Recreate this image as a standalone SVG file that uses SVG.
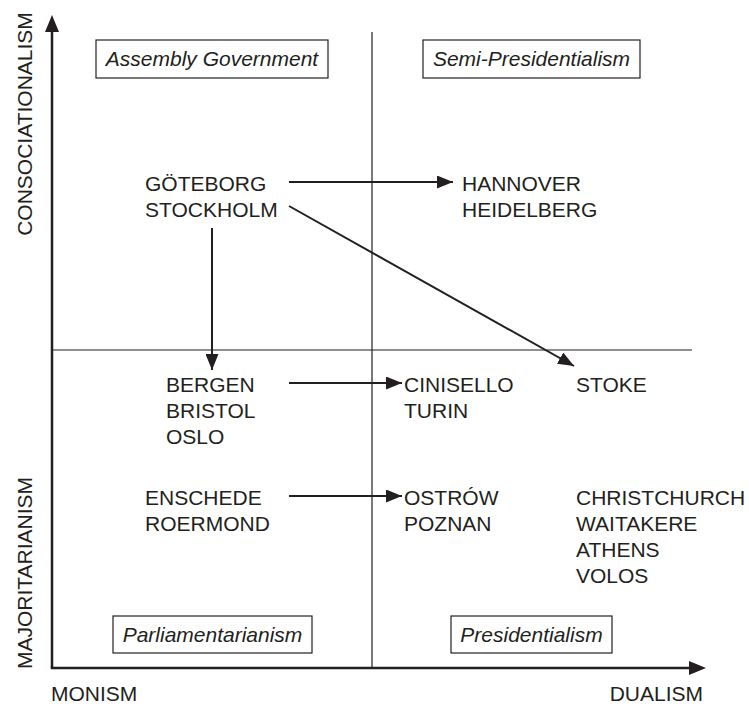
<svg xmlns="http://www.w3.org/2000/svg" width="749" height="707" viewBox="0 0 749 707">
<style>
text{font-family:"Liberation Sans",Arial,sans-serif;font-size:21px;fill:#231f20}
.it{font-style:italic;text-anchor:middle}
.axis{stroke:#231f20;stroke-width:2.5;fill:none}
.div{stroke:#231f20;stroke-width:1.2;fill:none}
.box{stroke:#231f20;stroke-width:1.2;fill:#fff}
.con{stroke:#231f20;stroke-width:2;fill:none;marker-end:url(#ah)}
</style>
<defs>
<marker id="ah" markerUnits="userSpaceOnUse" markerWidth="17" markerHeight="13" refX="16" refY="6.5" orient="auto"><path d="M0,0 L16,6.5 L0,13 z" fill="#231f20"/></marker>
</defs>
<rect width="749" height="707" fill="#fff"/>
<g id="axes">
<line class="div" x1="372" y1="32" x2="372" y2="668"/>
<line class="div" x1="52" y1="350" x2="692" y2="350"/>
<line class="axis" x1="52" y1="668" x2="52" y2="30"/>
<path d="M52,15 L59,32 L45,32 z" fill="#231f20"/>
<line class="axis" x1="50.75" y1="668" x2="692" y2="668"/>
<path d="M706,668 L689,661 L689,675 z" fill="#231f20"/>
<text transform="translate(32,124) rotate(-90)" text-anchor="middle">CONSOCIATIONALISM</text>
<text transform="translate(32,573) rotate(-90)" text-anchor="middle">MAJORITARIANISM</text>
<text x="51" y="701">MONISM</text>
<text x="703" y="701" text-anchor="end">DUALISM</text>
</g>
<g id="assembly"><rect class="box" x="96" y="40" width="232" height="38"/><text class="it" x="212" y="66">Assembly Government</text></g>
<g id="semi"><rect class="box" x="423" y="40" width="217" height="38"/><text class="it" x="531.5" y="66">Semi-Presidentialism</text></g>
<g id="parl"><rect class="box" x="113" y="616" width="199" height="37"/><text class="it" x="212.5" y="642">Parliamentarianism</text></g>
<g id="pres"><rect class="box" x="451" y="616" width="161" height="37"/><text class="it" x="531.5" y="642">Presidentialism</text></g>
<g id="goteborg"><text x="145" y="191">GÖTEBORG</text><text x="145" y="217">STOCKHOLM</text></g>
<g id="hannover"><text x="462" y="191">HANNOVER</text><text x="462" y="217">HEIDELBERG</text></g>
<g id="bergen"><text x="166" y="392">BERGEN</text><text x="166" y="418">BRISTOL</text><text x="166" y="444">OSLO</text></g>
<g id="cinisello"><text x="404" y="392">CINISELLO</text><text x="404" y="418">TURIN</text></g>
<g id="stoke"><text x="576" y="392">STOKE</text></g>
<g id="enschede"><text x="145" y="505">ENSCHEDE</text><text x="145" y="531">ROERMOND</text></g>
<g id="ostrow"><text x="404" y="505">OSTRÓW</text><text x="404" y="531">POZNAN</text></g>
<g id="christchurch"><text x="576" y="505">CHRISTCHURCH</text><text x="576" y="531">WAITAKERE</text><text x="576" y="557">ATHENS</text><text x="576" y="583">VOLOS</text></g>
<g id="connectors">
<line class="con" x1="289" y1="182" x2="453" y2="182"/>
<line class="con" x1="289" y1="206" x2="574" y2="366"/>
<line class="con" x1="212" y1="228" x2="212" y2="370"/>
<line class="con" x1="289" y1="383" x2="402" y2="383"/>
<line class="con" x1="289" y1="496" x2="402" y2="496"/>
</g>
</svg>
